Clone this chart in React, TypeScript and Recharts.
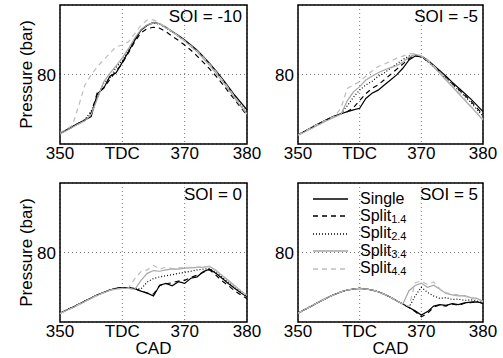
import React from "react";
import {
  LineChart,
  Line,
  XAxis,
  YAxis,
  CartesianGrid,
  ReferenceArea,
  Legend,
} from "recharts";

// crank angle (deg), shared by every panel
const cad = [
  350, 351, 352, 353, 354, 355, 356, 357, 358, 359, 360, 361, 362, 363, 364, 365,
  366, 367, 368, 369, 370, 371, 372, 373, 374, 375, 376, 377, 378, 379, 380,
];

const xTicks = [350, 360, 370, 380];
const yTicks = [80];

// SOI = -10
const m10Single = [63.1, 64.0, 65.0, 66.0, 66.9, 67.9, 74.5, 76.0, 79.5, 80.5, 83.5, 86.6, 89.9, 92.8, 94.2, 95.0, 94.6, 93.6, 92.4, 91.2, 89.9, 88.5, 87.0, 85.1, 83.2, 81.1, 78.9, 76.5, 74.1, 72.0, 69.8];
const m10Split14 = [63.0, 63.9, 64.9, 65.9, 66.8, 69.0, 74.8, 76.2, 78.6, 81.0, 83.2, 86.3, 89.5, 92.0, 93.2, 93.6, 93.3, 92.3, 91.0, 89.8, 88.5, 87.0, 85.3, 83.5, 81.6, 79.6, 77.4, 75.1, 72.8, 70.5, 68.3];
const m10Split24 = [63.1, 64.0, 65.0, 66.0, 67.0, 69.5, 73.5, 77.5, 79.0, 82.0, 84.0, 87.0, 90.2, 92.8, 94.2, 94.8, 94.5, 93.4, 92.2, 91.0, 89.7, 88.2, 86.6, 84.8, 82.8, 80.7, 78.5, 76.1, 73.7, 71.3, 69.0];
const m10Split34 = [62.9, 63.8, 64.8, 65.8, 66.7, 68.5, 73.0, 77.8, 80.3, 82.5, 84.8, 87.5, 90.5, 93.0, 94.3, 94.9, 94.6, 93.5, 92.3, 91.0, 89.6, 88.1, 86.5, 84.6, 82.6, 80.5, 78.2, 75.8, 73.3, 70.9, 68.6];
const m10Split44 = [63.3, 64.2, 65.4, 71.0, 77.0, 79.9, 82.3, 84.2, 86.1, 88.0, 88.5, 89.4, 91.8, 94.2, 95.7, 95.7, 94.8, 93.6, 92.3, 91.0, 89.7, 88.3, 86.8, 85.0, 83.0, 80.9, 78.6, 76.2, 73.7, 71.2, 68.8];

// SOI = -5
const m5Single = [62.6, 63.6, 64.5, 65.5, 66.4, 67.3, 68.1, 68.7, 69.3, 69.8, 70.3, 73.1, 74.6, 75.5, 77.0, 78.4, 79.9, 81.8, 84.2, 85.3, 85.3, 84.2, 82.7, 81.1, 79.5, 77.8, 76.2, 74.6, 73.0, 71.2, 69.3];
const m5Split14 = [62.6, 63.6, 64.5, 65.5, 66.4, 67.3, 68.1, 68.7, 69.3, 70.5, 72.5, 74.5, 76.0, 77.0, 78.5, 80.0, 81.5, 83.0, 84.6, 85.4, 85.0, 83.9, 82.4, 80.8, 79.1, 77.4, 75.8, 74.1, 72.4, 70.4, 68.5];
const m5Split24 = [62.6, 63.6, 64.5, 65.5, 66.4, 67.3, 68.1, 68.8, 71.0, 73.5, 75.5, 77.0, 78.0, 79.5, 80.5, 81.8, 83.0, 84.3, 85.3, 85.6, 85.0, 83.8, 82.2, 80.6, 78.9, 77.2, 75.5, 73.8, 72.0, 70.0, 68.0];
const m5Split34 = [62.5, 63.4, 64.3, 65.2, 66.1, 67.0, 67.8, 68.6, 72.5, 75.0, 76.5, 78.4, 79.5, 80.5, 81.3, 82.0, 82.5, 83.5, 85.0, 85.8, 85.3, 84.0, 82.2, 80.3, 78.4, 76.5, 74.6, 72.7, 70.8, 68.8, 66.9];
const m5Split44 = [62.6, 63.6, 64.5, 65.5, 66.4, 67.3, 68.0, 70.5, 76.0, 77.0, 78.0, 79.5, 81.0, 82.3, 83.0, 83.8, 84.7, 85.3, 85.9, 86.0, 85.4, 84.2, 82.5, 80.7, 78.8, 76.9, 75.0, 73.0, 71.0, 69.0, 67.2];

// SOI = 0
const z0Single = [62.5, 63.4, 64.2, 65.1, 66.0, 66.9, 67.8, 68.5, 69.2, 69.7, 69.9, 69.9, 69.6, 68.9, 68.3, 67.5, 70.6, 71.1, 70.4, 71.6, 71.1, 72.6, 73.0, 74.5, 75.2, 74.0, 72.6, 71.1, 69.7, 68.4, 67.3];
const z0Split14 = [62.5, 63.4, 64.2, 65.1, 66.0, 66.9, 67.8, 68.5, 69.2, 69.7, 69.9, 69.9, 69.6, 68.9, 68.3, 68.0, 70.5, 71.0, 71.3, 71.8, 72.0, 72.8, 73.5, 74.3, 75.0, 73.5, 71.8, 70.5, 69.0, 67.8, 66.7];
const z0Split24 = [62.5, 63.4, 64.2, 65.1, 66.0, 66.9, 67.8, 68.5, 69.2, 69.7, 69.9, 69.9, 69.6, 69.5, 71.5, 72.5, 73.0, 73.3, 73.6, 74.0, 74.3, 74.6, 75.0, 75.2, 75.4, 74.3, 72.9, 71.5, 70.0, 68.6, 67.3];
const z0Split34 = [62.4, 63.3, 64.1, 65.0, 65.9, 66.8, 67.7, 68.4, 69.1, 69.5, 69.7, 69.7, 69.4, 72.0, 74.0, 74.8, 74.6, 75.0, 75.3, 75.2, 75.5, 75.6, 75.7, 75.8, 76.0, 74.9, 73.4, 72.0, 70.5, 69.0, 67.6];
const z0Split44 = [62.4, 63.3, 64.1, 65.0, 65.9, 66.8, 67.7, 68.4, 69.1, 69.5, 69.7, 69.8, 72.5, 74.5, 75.0, 76.3, 75.2, 75.8, 75.4, 75.6, 75.7, 75.7, 75.8, 75.9, 76.0, 74.9, 73.4, 71.9, 70.4, 68.9, 67.4];

// SOI = 5
const p5Single = [62.5, 63.5, 64.4, 65.4, 66.3, 67.2, 68.0, 68.7, 69.2, 69.5, 69.7, 69.5, 69.2, 68.7, 68.0, 67.1, 66.1, 65.2, 64.2, 63.2, 62.0, 63.0, 64.6, 65.0, 64.8, 65.3, 65.0, 65.5, 65.7, 65.8, 65.4];
const p5Split14 = [62.5, 63.5, 64.4, 65.4, 66.3, 67.2, 68.0, 68.7, 69.2, 69.5, 69.7, 69.5, 69.2, 68.7, 68.0, 67.1, 66.1, 65.2, 64.2, 63.0, 61.5, 62.5, 64.3, 64.9, 64.6, 65.2, 64.8, 65.4, 65.6, 65.9, 65.3];
const p5Split24 = [62.5, 63.5, 64.4, 65.4, 66.3, 67.2, 68.0, 68.7, 69.2, 69.5, 69.7, 69.5, 69.2, 68.7, 68.0, 67.1, 66.1, 65.2, 64.2, 67.5, 70.0, 68.5, 67.5, 66.8, 67.0, 66.5, 66.6, 66.2, 66.4, 66.0, 65.8];
const p5Split34 = [62.5, 63.5, 64.4, 65.4, 66.3, 67.2, 68.0, 68.7, 69.2, 69.5, 69.7, 69.5, 69.2, 68.7, 68.0, 67.1, 66.1, 65.2, 69.0, 70.5, 71.2, 70.0, 70.6, 69.4, 68.2, 67.8, 67.5, 67.6, 67.0, 66.8, 66.0];
const p5Split44 = [62.5, 63.5, 64.4, 65.4, 66.3, 67.2, 68.0, 68.7, 69.2, 69.5, 69.7, 69.5, 69.2, 68.7, 68.0, 67.1, 66.1, 65.2, 64.5, 71.3, 71.8, 70.8, 71.5, 69.5, 68.5, 68.0, 67.8, 67.4, 66.9, 66.5, 65.8];

const series = [
  { key: "single", base: "Single", sub: "", color: "#000", dash: undefined },
  { key: "split14", base: "Split", sub: "1.4", color: "#000", dash: "5 4" },
  { key: "split24", base: "Split", sub: "2.4", color: "#000", dash: "1 2" },
  { key: "split34", base: "Split", sub: "3.4", color: "#a6a6a6", dash: undefined },
  { key: "split44", base: "Split", sub: "4.4", color: "#bdbdbd", dash: "5 4" },
];

const W = 503;
const H = 358;
const FONT = 17;

function rows(vals: number[][]) {
  return cad.map((x, i) => ({
    cad: x,
    single: vals[0][i],
    split14: vals[1][i],
    split24: vals[2][i],
    split34: vals[3][i],
    split44: vals[4][i],
  }));
}

const panels = [
  { soi: "SOI = -10", box: [60, 247, 5, 144], data: rows([m10Single, m10Split14, m10Split24, m10Split34, m10Split44]), ylabel: true, xlabel: false, legend: false },
  { soi: "SOI = -5", box: [298, 483, 5, 144], data: rows([m5Single, m5Split14, m5Split24, m5Split34, m5Split44]), ylabel: false, xlabel: false, legend: false },
  { soi: "SOI = 0", box: [60, 247, 183, 322], data: rows([z0Single, z0Split14, z0Split24, z0Split34, z0Split44]), ylabel: true, xlabel: true, legend: false },
  { soi: "SOI = 5", box: [298, 483, 183, 322], data: rows([p5Single, p5Split14, p5Split24, p5Split34, p5Split44]), ylabel: false, xlabel: true, legend: true },
];

const renderLegend = () => (
  <div style={{ fontSize: 16, color: "#000" }}>
    {series.map((s) => (
      <div key={s.key} style={{ display: "flex", alignItems: "center", height: 17.5 }}>
        <svg width={35} height={8}>
          <line x1={0} y1={4} x2={35} y2={4} stroke={s.color} strokeWidth={1.3} strokeDasharray={s.dash} />
        </svg>
        <span style={{ marginLeft: 12, lineHeight: "17px", whiteSpace: "nowrap" }}>
          {s.base}
          {s.sub && (
            <span style={{ fontSize: 11, position: "relative", top: 2 }}>{s.sub}</span>
          )}
        </span>
      </div>
    ))}
  </div>
);

function Panel({ p }: { p: (typeof panels)[number] }) {
  const [l, r, t, b] = p.box;
  const yW = 40;
  const xH = 36;
  return (
    <div style={{ position: "absolute", left: 0, top: 0 }}>
      <LineChart
        width={W}
        height={H}
        data={p.data}
        margin={{ left: l - yW, right: W - r, top: t, bottom: H - b - xH }}
      >
        <CartesianGrid stroke="#777" strokeDasharray="1 3" />
        <XAxis
          dataKey="cad"
          type="number"
          domain={[350, 380]}
          ticks={xTicks}
          height={xH}
          axisLine={false}
          tickLine={false}
          tickSize={0}
          tickMargin={3}
          tickFormatter={(v: number) => (v === 360 ? "TDC" : String(v))}
          tick={{ fill: "#000", fontSize: FONT }}
          label={
            p.xlabel
              ? { value: "CAD", position: "insideBottom", offset: 4, fill: "#000", fontSize: FONT }
              : undefined
          }
        />
        <YAxis
          type="number"
          domain={[60, 100]}
          ticks={yTicks}
          width={yW}
          axisLine={false}
          tickLine={false}
          tickSize={0}
          tickMargin={4}
          tick={{ fill: "#000", fontSize: FONT }}
          label={
            p.ylabel
              ? {
                  content: (props: any) => {
                    const vb = props.viewBox;
                    const cx = vb.x + vb.width - 34;
                    const cy = vb.y + vb.height / 2;
                    return (
                      <text
                        x={cx}
                        y={cy}
                        transform={`rotate(-90 ${cx} ${cy})`}
                        textAnchor="middle"
                        dominantBaseline="central"
                        fontSize={FONT}
                        fill="#000"
                      >
                        Pressure (bar)
                      </text>
                    );
                  },
                }
              : undefined
          }
        />
        {series.map((s) => (
          <Line
            key={s.key}
            type="linear"
            dataKey={s.key}
            name={s.key}
            stroke={s.color}
            strokeWidth={1.2}
            strokeDasharray={s.dash}
            dot={false}
            isAnimationActive={false}
          />
        ))}
        <ReferenceArea
          x1={350}
          x2={380}
          y1={60}
          y2={100}
          fill="none"
          fillOpacity={0}
          stroke="#000"
          strokeWidth={1.5}
          label={{ value: p.soi, position: "insideTopRight", offset: 5, fill: "#000", fontSize: FONT }}
        />
        {p.legend && (
          <Legend
            layout="vertical"
            align="center"
            verticalAlign="middle"
            content={renderLegend}
            wrapperStyle={{ left: 313, top: 190, width: 170 }}
          />
        )}
      </LineChart>
    </div>
  );
}

export default function App() {
  return (
    <div
      style={{
        position: "absolute",
        left: 0,
        top: 0,
        width: W,
        height: H,
        background: "#fff",
        fontFamily: '"Liberation Sans", Arial, Helvetica, sans-serif',
      }}
    >
      {panels.map((p) => (
        <Panel key={p.soi} p={p} />
      ))}
    </div>
  );
}
